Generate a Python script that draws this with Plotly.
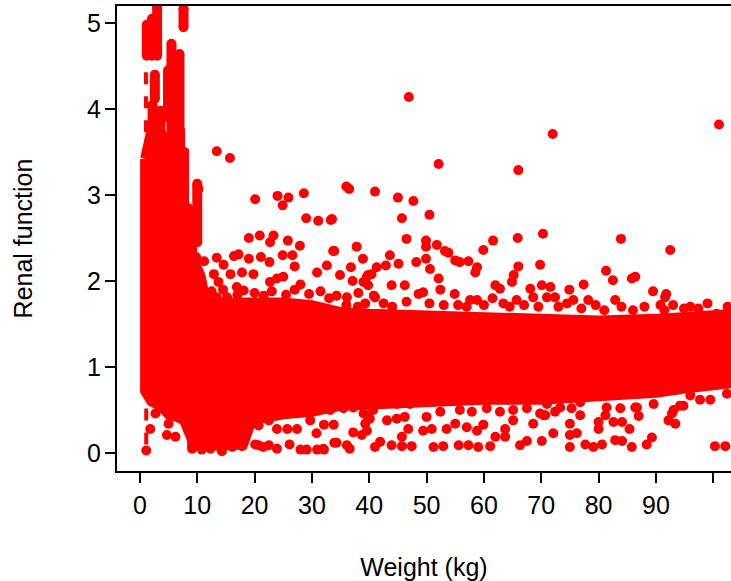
import plotly.graph_objects as go

RED = "#ff0000"

# outline of the solid red core of the cloud (weight, renal function)
band_x = [0.9, 2.0, 3.5, 5.0, 6.5, 7.7, 7.7, 9.1, 9.1, 10.6, 11.5, 18.0, 19.5,
          25, 30, 35, 40, 50, 60, 70, 80, 90, 95, 100, 104]
band_top = [3.42, 3.75, 3.75, 3.55, 3.55, 3.5, 2.85, 2.75, 2.3, 2.05, 1.75, 1.75, 1.75,
            1.75, 1.72, 1.64, 1.62, 1.60, 1.58, 1.55, 1.54, 1.56, 1.58, 1.60, 1.62]
band_bot = [0.72, 0.6, 0.55, 0.45, 0.42, 0.38, 0.36, 0.15, 0.1, 0.08, 0.08, 0.1, 0.38,
            0.45, 0.48, 0.55, 0.58, 0.6, 0.62, 0.62, 0.65, 0.7, 0.75, 0.8, 0.82]

# dense vertical runs of points in the spike at low weight: (weight, low, high)
spike_runs = [(1.2, 4.62, 4.98), (3.0, 4.62, 5.18), (2.6, 4.12, 4.40), (2.2, 3.5, 4.05),
              (3.6, 3.5, 3.98), (5.5, 3.5, 4.76), (6.9, 3.5, 4.64), (4.9, 3.9, 4.45),
              (7.6, 4.95, 5.17), (7.0, 3.1, 3.75), (10.0, 2.45, 3.13), (8.4, 2.7, 2.85),
              (2.1, 4.62, 5.05)]
thin_runs = [(1.05, 3.45, 4.55), (1.1, 0.1, 0.6)]

# sparse points above the core
upper_pts = [
    (13.4, 3.51), (15.7, 3.43), (20.1, 2.95), (24.0, 2.99), (24.9, 2.88), (25.9, 2.97),
    (28.6, 3.02), (29.0, 2.73), (31.1, 2.70), (33.3, 2.71), (19.0, 2.50), (20.9, 2.53),
    (22.7, 2.45), (23.3, 2.53), (25.8, 2.47), (27.9, 2.41), (33.7, 2.35), (9.8, 2.28),
    (11.2, 2.23), (13.4, 2.27), (14.6, 2.19), (16.4, 2.29), (17.2, 2.31), (19.0, 2.26),
    (21.1, 2.28), (22.6, 2.22), (24.9, 2.30), (26.6, 2.30), (27.0, 2.17), (12.9, 2.08),
    (13.7, 1.99), (15.8, 2.08), (17.8, 2.10), (19.8, 2.08), (22.7, 1.99), (23.9, 2.03),
    (25.0, 2.05), (28.0, 1.96), (30.9, 2.10), (32.6, 2.18), (16.9, 1.93), (18.1, 1.89),
    (21.6, 1.83), (11.7, 1.81), (13.4, 1.81), (15.2, 1.81), (10.2, 3.07), (9.9, 2.47),
    (52.1, 3.36), (66.0, 3.29), (36.0, 3.10), (36.5, 3.07), (41.0, 3.04), (45.0, 2.97),
    (47.7, 2.93), (33.5, 2.72), (45.7, 2.73), (50.5, 2.77), (46.5, 2.49), (49.9, 2.47),
    (49.9, 2.40), (51.8, 2.42), (53.2, 2.35), (53.8, 2.33), (55.0, 2.24), (55.8, 2.22),
    (57.3, 2.23), (58.8, 2.16), (58.5, 2.10), (59.9, 2.36), (61.6, 2.47), (65.9, 2.50),
    (70.3, 2.55), (66.0, 2.17), (65.2, 2.07), (64.9, 1.99), (69.8, 2.19), (33.9, 2.35),
    (37.8, 2.40), (38.9, 2.26), (43.6, 2.30), (45.1, 2.20), (48.2, 2.22), (49.9, 2.26),
    (50.6, 2.14), (36.8, 2.16), (37.1, 2.00), (34.9, 2.07), (39.6, 2.05), (40.4, 2.08),
    (41.3, 2.16), (42.9, 2.18), (43.9, 1.95), (46.2, 1.95), (52.1, 2.03), (54.9, 1.85),
    (57.6, 1.78), (58.8, 1.78), (62.0, 1.95), (62.8, 1.91), (68.1, 1.91), (70.1, 1.95),
    (38.1, 1.86), (39.8, 1.95), (40.8, 1.83), (34.3, 1.83), (36.1, 1.81), (39.3, 1.74),
    (41.0, 1.81), (48.6, 1.85), (49.4, 1.87), (52.4, 1.90), (63.4, 1.74), (65.7, 1.78),
    (68.6, 1.81), (71.0, 1.81), (39.8, 2.07), (39.0, 1.99),
    (46.9, 4.14), (72.0, 3.71), (101.0, 3.82), (83.9, 2.49), (92.5, 2.36), (81.3, 2.12),
    (82.5, 2.01), (85.8, 2.03), (86.4, 2.05), (89.5, 1.88), (91.8, 1.85), (91.6, 1.81),
    (77.4, 1.96), (74.9, 1.90), (78.2, 1.78), (75.6, 1.78), (71.6, 1.93), (72.4, 1.81),
    (90.8, 1.72), (94.9, 1.68), (97.4, 1.68), (100.6, 1.62), (82.9, 1.78),
]

# points crowding the top edge of the core
edge_pts = [
    (73.0, 1.70), (74.5, 1.74), (77.0, 1.68), (79.5, 1.72), (81.0, 1.66), (84.0, 1.70),
    (86.0, 1.66), (88.0, 1.70), (91.5, 1.66), (93.0, 1.72), (96.0, 1.70), (99.0, 1.74),
    (102.5, 1.70), (36.0, 1.72), (38.0, 1.70), (42.5, 1.74), (44.0, 1.70), (46.5, 1.76),
    (50.5, 1.74), (53.0, 1.72), (55.5, 1.72), (57.0, 1.70), (60.0, 1.72), (61.5, 1.80),
    (64.5, 1.70), (67.0, 1.72), (69.5, 1.70), (12.5, 1.88), (14.5, 1.90), (17.0, 1.84),
    (20.0, 1.86), (23.0, 1.88), (25.5, 1.84), (27.0, 1.90), (29.5, 1.85), (31.5, 1.88),
    (33.0, 1.80),
]

# sparse points below the core
lower_pts = [
    (1.1, 0.03), (1.8, 0.28), (2.7, 0.46), (4.7, 0.21), (6.2, 0.19), (5.0, 0.34),
    (9.1, 0.05), (10.8, 0.04), (12.3, 0.05), (14.3, 0.02), (16.1, 0.07), (17.8, 0.08),
    (20.7, 0.09), (22.5, 0.09), (23.9, 0.05), (26.1, 0.10), (28.0, 0.04), (29.1, 0.04),
    (30.9, 0.04), (32.1, 0.04), (30.8, 0.23), (32.1, 0.33), (33.8, 0.33), (33.9, 0.12),
    (20.1, 0.10), (21.5, 0.07), (23.9, 0.28), (25.7, 0.28), (27.4, 0.28), (20.7, 0.32),
    (22.5, 0.38), (18.1, 0.38), (21.6, 0.42), (29.7, 0.38),
    (32.0, 0.05), (34.3, 0.12), (36.1, 0.09), (36.6, 0.05), (37.2, 0.24), (38.7, 0.21),
    (39.6, 0.26), (41.0, 0.07), (41.9, 0.13), (39.3, 0.34), (40.1, 0.40), (39.6, 0.44),
    (43.9, 0.09), (45.7, 0.08), (47.4, 0.08), (45.7, 0.19), (46.8, 0.28), (43.1, 0.38),
    (44.8, 0.40), (46.2, 0.42), (49.4, 0.26), (50.9, 0.28), (51.2, 0.07), (52.9, 0.08),
    (53.5, 0.28), (55.0, 0.34), (55.6, 0.09), (57.3, 0.09), (59.0, 0.07), (57.0, 0.30),
    (58.8, 0.26), (59.9, 0.33), (61.1, 0.08), (62.0, 0.19), (63.7, 0.19), (63.7, 0.28),
    (65.1, 0.38), (66.3, 0.09), (67.5, 0.14), (68.6, 0.34), (70.4, 0.44), (70.1, 0.14),
    (72.1, 0.23), (70.7, 0.44), (72.4, 0.48), (75.0, 0.07), (75.0, 0.21), (76.2, 0.23),
    (75.0, 0.34), (76.8, 0.44), (75.3, 0.52), (77.7, 0.10), (79.1, 0.07), (80.6, 0.10),
    (80.0, 0.28), (80.0, 0.36), (81.2, 0.44), (82.9, 0.15), (84.1, 0.14), (82.6, 0.36),
    (84.1, 0.36), (85.4, 0.28), (85.8, 0.07), (86.4, 0.53), (87.0, 0.43), (88.4, 0.10),
    (89.3, 0.18), (92.2, 0.38), (93.4, 0.34), (92.8, 0.46), (94.2, 0.55), (100.3, 0.08),
    (102.1, 0.08), (97.7, 0.62), (99.5, 0.62), (96.0, 0.67), (95.4, 0.75), (102.4, 0.69),
    (33.2, 0.50), (35.5, 0.52), (37.2, 0.53), (39.0, 0.46), (40.7, 0.50), (44.8, 0.57),
    (47.1, 0.57), (50.0, 0.42), (52.4, 0.48), (55.8, 0.50), (57.9, 0.48), (60.5, 0.52),
    (62.8, 0.48), (65.1, 0.50), (67.5, 0.52), (69.8, 0.46), (71.0, 0.57), (73.3, 0.53),
    (76.8, 0.59), (81.4, 0.53), (83.8, 0.52), (86.7, 0.53), (89.6, 0.57), (93.1, 0.50),
    (94.8, 0.55),
]

x_ticks = [0, 10, 20, 30, 40, 50, 60, 70, 80, 90, 100]
x_labels = ["0", "10", "20", "30", "40", "50", "60", "70", "80", "90", ""]
y_ticks = [0, 1, 2, 3, 4, 5]


def runs_to_xy(runs):
    xs, ys = [], []
    for x, lo, hi in runs:
        xs += [x, x, None]
        ys += [lo, hi, None]
    return xs, ys


fig = go.Figure()

# solid core
fig.add_trace(go.Scatter(
    x=band_x + band_x[::-1] + [band_x[0]],
    y=band_top + band_bot[::-1] + [band_top[0]],
    mode="lines", fill="toself", fillcolor=RED,
    line=dict(color=RED, width=10), hoverinfo="skip"))

sx, sy = runs_to_xy(spike_runs)
fig.add_trace(go.Scatter(x=sx, y=sy, mode="lines+markers",
                         line=dict(color=RED, width=10),
                         marker=dict(color=RED, size=10)))

tx, ty = runs_to_xy(thin_runs)
fig.add_trace(go.Scatter(x=tx, y=ty, mode="lines",
                         line=dict(color=RED, width=4, dash="dash")))

for pts in (upper_pts, edge_pts, lower_pts):
    w, r = zip(*pts)
    fig.add_trace(go.Scatter(x=list(w), y=list(r), mode="markers",
                             marker=dict(color=RED, size=10, line=dict(width=0))))

axis_font = dict(family="Liberation Sans, Arial, sans-serif", size=25, color="black")

fig.update_layout(
    width=731, height=581,
    margin=dict(l=117, r=0, t=6, b=110),
    paper_bgcolor="white", plot_bgcolor="white",
    showlegend=False,
    font=axis_font,
    xaxis=dict(
        range=[-4.0, 103.1], tickvals=x_ticks, ticktext=x_labels,
        showgrid=False, zeroline=False,
        showline=True, linecolor="black", linewidth=2, mirror=True,
        ticks="outside", ticklen=10, tickwidth=2, tickcolor="black",
        ticklabelstandoff=1,
        title=dict(text="Weight (kg)", standoff=40, font=axis_font)),
    yaxis=dict(
        range=[-0.209, 5.198], tickvals=y_ticks,
        showgrid=False, zeroline=False,
        showline=True, linecolor="black", linewidth=2,
        ticks="outside", ticklen=10, tickwidth=2, tickcolor="black",
        ticklabelstandoff=-1,
        title=dict(text="Renal function", standoff=47, font=axis_font)),
)

fig.write_html("out.html", config={"displayModeBar": False},
               post_script="document.body.style.margin='0px';")
